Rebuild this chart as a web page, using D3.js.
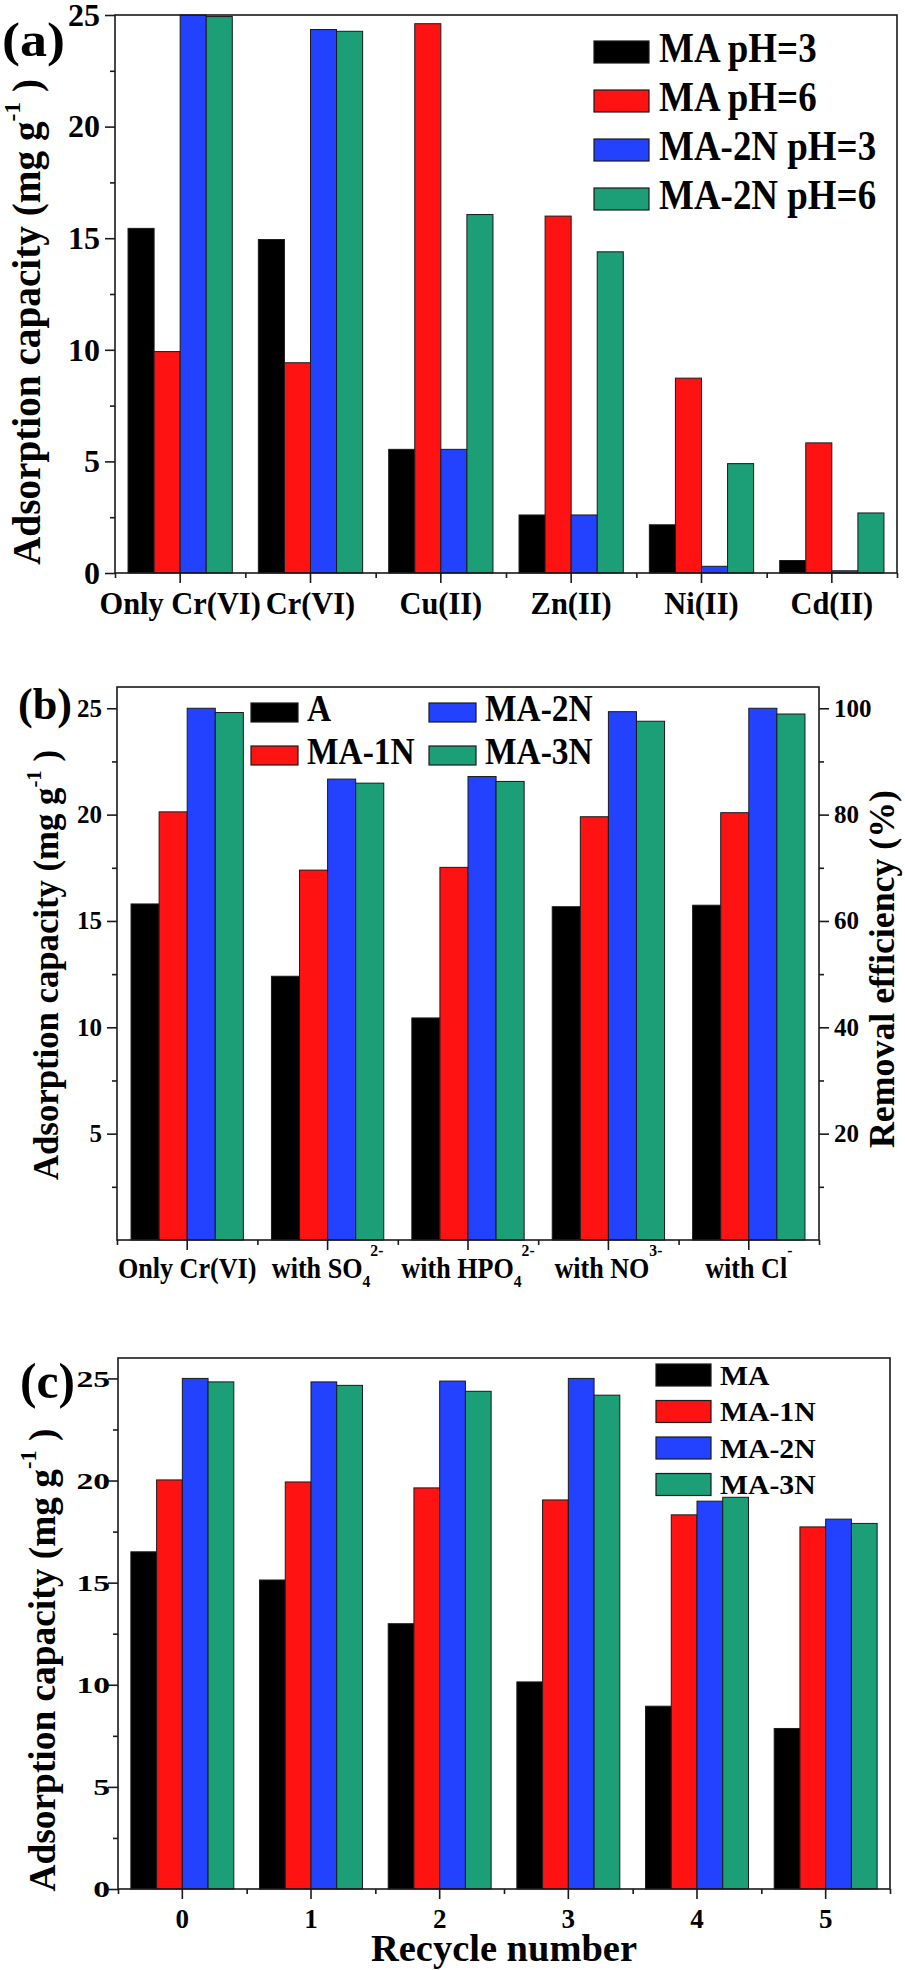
<!DOCTYPE html>
<html>
<head>
<meta charset="utf-8">
<script src="https://cdn.jsdelivr.net/npm/d3@7"></script>
<style>
  body { margin: 0; background: #fff; }
  svg { display: block; }
</style>
</head>
<body>
<div id="chart"></div>
<script>
// Panel (a): adsorption with co-existing ions
const catsA = ["Only Cr(VI)", "Cr(VI)", "Cu(II)", "Zn(II)", "Ni(II)", "Cd(II)"];
const seriesA = ["MA pH=3", "MA pH=6", "MA-2N pH=3", "MA-2N pH=6"];
const aMApH3 = [15.44, 14.94, 5.54, 2.6, 2.16, 0.56];
const aMApH6 = [9.92, 9.42, 24.61, 15.99, 8.73, 5.83];
const aMA2NpH3 = [25.0, 24.35, 5.54, 2.6, 0.3, 0.1];
const aMA2NpH6 = [24.93, 24.27, 16.06, 14.39, 4.9, 2.69];
const ticksA = [0, 5, 10, 15, 20, 25];
const minorA = [2.5, 7.5, 12.5, 17.5, 22.5];

// Panel (b): effect of anions
const catsB = ["Only Cr(VI)", "with SO_{4}^{2-}", "with HPO_{4}^{2-}", "with NO^{3-}", "with Cl^{-}"];
const seriesB = ["A", "MA-1N", "MA-2N", "MA-3N"];
const bA = [15.8, 12.4, 10.44, 15.67, 15.74];
const bMA1N = [20.13, 17.39, 17.52, 19.9, 20.09];
const bMA2N = [25.0, 21.67, 21.79, 24.84, 25.0];
const bMA3N = [24.8, 21.48, 21.56, 24.39, 24.73];
const ticksB = [5, 10, 15, 20, 25];
const minorB = [2.5, 7.5, 12.5, 17.5, 22.5];
const ticksBRight = [20, 40, 60, 80, 100];
const minorBRight = [10, 30, 50, 70, 90];

// Panel (c): recycling
const catsC = ["0", "1", "2", "3", "4", "5"];
const seriesC = ["MA", "MA-1N", "MA-2N", "MA-3N"];
const cMA = [16.51, 15.13, 12.99, 10.14, 8.95, 7.86];
const cMA1N = [20.03, 19.93, 19.64, 19.05, 18.32, 17.73];
const cMA2N = [25.0, 24.83, 24.87, 25.0, 18.99, 18.11];
const cMA3N = [24.83, 24.66, 24.37, 24.18, 19.18, 17.9];
const ticksC = [0, 5, 10, 15, 20, 25];
const minorC = [2.5, 7.5, 12.5, 17.5, 22.5];

const colors = ["#000000", "#ff1212", "#2342ff", "#1c9e77"];
const fontFam = '"Liberation Serif", "Times New Roman", serif';

const svg = d3.select("#chart").append("svg")
    .attr("width", 905)
    .attr("height", 1970);

// Split a label like "with SO_{4}^{2-}" into normal / sub / super parts
function parseLabel(str) {
    const parts = [];
    str.split(/(_\{[^}]*\}|\^\{[^}]*\})/).forEach(s => {
        if (!s) return;
        if (s[0] === "_") parts.push({ t: s.slice(2, -1), kind: "sub" });
        else if (s[0] === "^") parts.push({ t: s.slice(2, -1), kind: "sup" });
        else parts.push({ t: s, kind: "normal" });
    });
    return parts;
}

// Bold serif text with optional scripts, rotation and horizontal stretch
function addText(g, x, y, str, opts) {
    const size = opts.size;
    const t = g.append("text")
        .attr("x", x)
        .attr("y", y)
        .attr("font-size", size)
        .attr("font-family", fontFam)
        .attr("font-weight", "bold")
        .attr("fill", "#000")
        .attr("text-anchor", opts.anchor || "start");
    if (opts.rotate) t.attr("transform", `rotate(-90,${x},${y})`);
    let shift = 0;
    parseLabel(str).forEach(p => {
        let target = 0;
        if (p.kind === "sub") target = size * 0.3;
        if (p.kind === "sup") target = -size * (opts.supShift || 0.65);
        const s = t.append("tspan").text(p.t);
        if (target !== shift) s.attr("dy", target - shift);
        if (p.kind !== "normal") s.attr("font-size", size * 0.6);
        shift = target;
    });
    if (opts.len) {
        t.attr("textLength", opts.len).attr("lengthAdjust", "spacingAndGlyphs");
    } else if (opts.sx && opts.sx !== 1) {
        const w = t.node().getComputedTextLength();
        t.attr("textLength", w * opts.sx).attr("lengthAdjust", "spacingAndGlyphs");
    }
    return t;
}

function drawPanel(cfg) {
    const g = svg.append("g");
    const n = cfg.cats.length;

    // Category bands, each group of bars takes 80% of its slot
    const x0 = d3.scaleBand()
        .domain(cfg.cats)
        .range([cfg.left, cfg.right])
        .paddingInner(0.2)
        .paddingOuter(0.1);
    const x1 = d3.scaleBand()
        .domain(cfg.series)
        .range([0, x0.bandwidth()]);
    const xEdges = d3.scaleLinear().domain([0, n]).range([cfg.left, cfg.right]);
    const y = d3.scaleLinear().domain([0, cfg.yMax]).range([cfg.bottom, cfg.top]);

    // Bars
    cfg.series.forEach((s, si) => {
        g.append("g").selectAll("rect")
            .data(cfg.values[si].map((v, i) => ({ cat: cfg.cats[i], v: v })))
            .enter()
            .append("rect")
            .attr("x", d => x0(d.cat) + x1(s))
            .attr("y", d => y(d.v))
            .attr("width", x1.bandwidth())
            .attr("height", d => y(0) - y(d.v))
            .attr("fill", colors[si])
            .attr("stroke", "#1a1a1a")
            .attr("stroke-width", 1);
    });

    // Axes: major and minor ticks, labels drawn separately
    const tickStyle = sel => {
        sel.select(".domain").remove();
        sel.selectAll("line").attr("stroke", "#1a1a1a").attr("stroke-width", 1.6);
    };
    g.append("g")
        .attr("transform", `translate(0,${cfg.bottom})`)
        .call(d3.axisBottom(x0).tickSize(10).tickSizeOuter(0).tickFormat(""))
        .call(tickStyle);
    g.append("g")
        .attr("transform", `translate(0,${cfg.bottom})`)
        .call(d3.axisBottom(xEdges).tickValues(d3.range(n + 1)).tickSize(5).tickFormat(""))
        .call(tickStyle);
    g.append("g")
        .attr("transform", `translate(${cfg.left},0)`)
        .call(d3.axisLeft(y).tickValues(cfg.ticks).tickSize(10).tickFormat(""))
        .call(tickStyle);
    g.append("g")
        .attr("transform", `translate(${cfg.left},0)`)
        .call(d3.axisLeft(y).tickValues(cfg.minor).tickSize(5).tickFormat(""))
        .call(tickStyle);

    // Frame
    g.append("rect")
        .attr("x", cfg.left)
        .attr("y", cfg.top)
        .attr("width", cfg.right - cfg.left)
        .attr("height", cfg.bottom - cfg.top)
        .attr("fill", "none")
        .attr("stroke", "#1a1a1a")
        .attr("stroke-width", 1.6);

    // Y tick labels
    cfg.ticks.forEach(v => {
        addText(g, cfg.left - cfg.yLab.gap, y(v) + cfg.yLab.size * 0.34, String(v),
            { size: cfg.yLab.size, anchor: "end", sx: cfg.yLab.sx });
    });

    // X tick labels
    cfg.cats.forEach(c => {
        addText(g, x0(c) + x0.bandwidth() / 2, cfg.xLab.y, c,
            { size: cfg.xLab.size, anchor: "middle", sx: cfg.xLab.sx, supShift: cfg.xLab.supShift });
    });

    // Y axis title
    addText(g, cfg.yTitle.x, cfg.yTitle.cy, "Adsorption capacity (mg g^{-1} )",
        { size: cfg.yTitle.size, anchor: "middle", rotate: true, len: cfg.yTitle.len, supShift: 0.5 });

    // Panel letter
    addText(g, cfg.letter.x, cfg.letter.y, cfg.letter.t,
        { size: cfg.letter.size, len: cfg.letter.len });

    // Legend
    cfg.series.forEach((s, si) => {
        const pos = cfg.legend.pos(si);
        g.append("rect")
            .attr("x", pos[0])
            .attr("y", pos[1])
            .attr("width", cfg.legend.w)
            .attr("height", cfg.legend.h)
            .attr("fill", colors[si])
            .attr("stroke", "#1a1a1a")
            .attr("stroke-width", 1.2);
        addText(g, pos[0] + cfg.legend.w + cfg.legend.gap, pos[1] + cfg.legend.h - 1.5, s,
            { size: cfg.legend.size, sx: cfg.legend.sx });
    });

    return { g: g, y: y };
}

// (a)
drawPanel({
    left: 115, right: 897, top: 15, bottom: 573, yMax: 25,
    cats: catsA, series: seriesA,
    values: [aMApH3, aMApH6, aMA2NpH3, aMA2NpH6],
    ticks: ticksA, minor: minorA,
    yLab: { size: 32, gap: 15, sx: 1 },
    xLab: { y: 614, size: 32, sx: 0.95 },
    yTitle: { x: 40, cy: 322, size: 40, len: 486 },
    letter: { x: 2, y: 56, t: "(a)", size: 48, len: 63 },
    legend: { w: 55, h: 22, gap: 10, size: 42, sx: 0.88, pos: i => [594, 41 + i * 49] }
});

// (b)
const pb = drawPanel({
    left: 117, right: 819, top: 687, bottom: 1240, yMax: 26,
    cats: catsB, series: seriesB,
    values: [bA, bMA1N, bMA2N, bMA3N],
    ticks: ticksB, minor: minorB,
    yLab: { size: 25, gap: 15, sx: 1 },
    xLab: { y: 1278, size: 29, sx: 0.9, supShift: 0.75 },
    yTitle: { x: 58, cy: 965, size: 35, len: 430 },
    letter: { x: 18, y: 719, t: "(b)", size: 45, len: 54 },
    legend: { w: 47, h: 19, gap: 9, size: 38, sx: 0.88,
        pos: i => [[251, 429][Math.floor(i / 2)], [703, 746][i % 2]] }
});

// (b) right axis: removal efficiency, 100% = 25 mg/g
const yRight = d3.scaleLinear().domain([0, 26 * 4]).range([1240, 687]);
const rightStyle = sel => {
    sel.select(".domain").remove();
    sel.selectAll("line").attr("stroke", "#1a1a1a").attr("stroke-width", 1.6);
};
pb.g.append("g")
    .attr("transform", "translate(819,0)")
    .call(d3.axisRight(yRight).tickValues(ticksBRight).tickSize(10).tickFormat(""))
    .call(rightStyle);
pb.g.append("g")
    .attr("transform", "translate(819,0)")
    .call(d3.axisRight(yRight).tickValues(minorBRight).tickSize(5).tickFormat(""))
    .call(rightStyle);
ticksBRight.forEach(v => {
    addText(pb.g, 834, yRight(v) + 25 * 0.34, String(v), { size: 25 });
});
addText(pb.g, 894, 969, "Removal efficiency (%)",
    { size: 35, anchor: "middle", rotate: true, len: 358 });

// (c)
const pc = drawPanel({
    left: 118, right: 890, top: 1358, bottom: 1889, yMax: 26,
    cats: catsC, series: seriesC,
    values: [cMA, cMA1N, cMA2N, cMA3N],
    ticks: ticksC, minor: minorC,
    yLab: { size: 24, gap: 8, sx: 1.4 },
    xLab: { y: 1928, size: 27, sx: 1 },
    yTitle: { x: 55, cy: 1660, size: 38, len: 463 },
    letter: { x: 20, y: 1398, t: "(c)", size: 50, len: 55 },
    legend: { w: 55, h: 22, gap: 9, size: 27, sx: 1.1, pos: i => [656, 1364 + i * 36.5] }
});
addText(pc.g, 504, 1961, "Recycle number", { size: 37, anchor: "middle", len: 266 });
</script>
</body>
</html>
